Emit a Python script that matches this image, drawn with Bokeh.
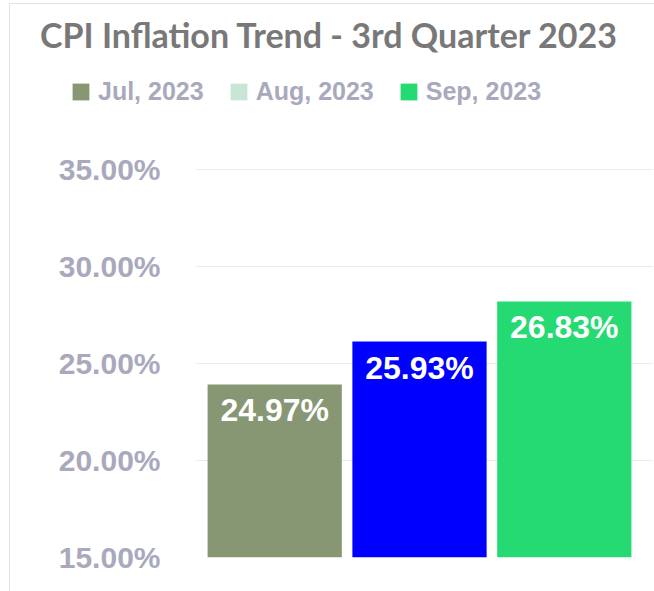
from bokeh.plotting import figure
from bokeh.layouts import column
from bokeh.models import (Range1d, FixedTicker, PrintfTickFormatter, ColumnDataSource,
                          Legend, LegendItem, Label)
from bokeh.core.properties import value
from bokeh.embed import file_html
from bokeh.resources import INLINE

# ---- data ----
months = ["Jul, 2023", "Aug, 2023", "Sep, 2023"]
values = [24.97, 25.93, 26.83]
bar_colors = ["#879774", "#0000ff", "#26da73"]
legend_colors = ["#879774", "#c8e6d4", "#26da73"]
y_ticks = [15, 20, 25, 30, 35]
title_text = "CPI  Inflation Trend - 3rd Quarter 2023"

src = ColumnDataSource(dict(
    x=list(range(len(months))),
    top=values,
    color=bar_colors,
    label=[f"{v:.2f}%" for v in values],
))

# ---- header: title + legend ----
hdr = figure(width=654, height=130, output_backend="svg", toolbar_location=None,
             x_range=Range1d(0, 654), y_range=Range1d(0, 130), min_border=0,
             x_axis_location=None, y_axis_location=None, title=None)
hdr.frame_align = False
hdr.grid.visible = False
hdr.outline_line_color = None
hdr.background_fill_alpha = 0
hdr.border_fill_alpha = 0

hdr.add_layout(Label(x=333, y=96, x_units="screen", y_units="screen", text=title_text,
                     text_align="center", text_baseline="alphabetic", text_font="Lato",
                     text_font_style="bold", text_font_size="34px", text_color="#787878"))

# legend-only renderers (zero-width bars, so only their legend swatch shows)
items = []
for i, (m, c) in enumerate(zip(months, legend_colors)):
    r = hdr.vbar(x=[src.data["x"][i]], top=[values[i]], width=0,
                 fill_color=c, line_color=None)
    items.append(LegendItem(label=m, renderers=[r]))
legend = Legend(items=items, orientation="horizontal", location=(70, 24),
                glyph_width=21, glyph_height=21, label_standoff=7, spacing=24,
                padding=0, margin=0, border_line_color=None, background_fill_alpha=0,
                label_text_font="Liberation Sans", label_text_font_style="bold",
                label_text_font_size="25px", label_text_color="#a9a9bd")
hdr.add_layout(legend, "center")

# ---- main chart ----
p = figure(width=654, height=461, output_backend="svg", toolbar_location=None,
           x_range=Range1d(-0.547, 2.616), y_range=Range1d(15, 37.01),
           min_border_left=195, min_border_right=1, min_border_top=0,
           min_border_bottom=34, x_axis_location=None, title=None)
p.frame_align = False
p.extra_y_ranges = {"bars": Range1d(21.09, 30.66)}
p.outline_line_color = None
p.background_fill_color = "white"
p.border_fill_alpha = 0
p.xgrid.visible = False
p.ygrid.grid_line_color = "#ebebef"
p.ygrid.grid_line_width = 1

ax = p.yaxis[0]
ax.ticker = FixedTicker(ticks=y_ticks)
ax.formatter = PrintfTickFormatter(format="%.2f%%")
ax.axis_line_color = None
ax.major_tick_line_color = None
ax.minor_tick_line_color = None
ax.major_tick_out = 0
ax.major_tick_in = 0
ax.major_label_standoff = 35
ax.major_label_text_font = "Liberation Sans"
ax.major_label_text_font_style = "bold"
ax.major_label_text_font_size = "30px"
ax.major_label_text_color = "#a9a9bd"

p.vbar(x="x", top="top", bottom=0, width=0.927, fill_color="color", line_color=None,
       source=src, y_range_name="bars")
p.text(x="x", y="top", text="label", source=src, y_range_name="bars",
       text_align="center", text_baseline="top", y_offset=8, text_color="white",
       text_font=value("Liberation Sans"), text_font_style="bold", text_font_size="32px")

layout = column(hdr, p, spacing=0, styles={
    "background": "linear-gradient(#e3e3e3,#e3e3e3) 9px 3px / 1px 100% no-repeat, "
                  "linear-gradient(#e3e3e3,#e3e3e3) 9px 3px / 100% 1px no-repeat, white"})

open("out.html", "w").write(file_html(layout, INLINE))
